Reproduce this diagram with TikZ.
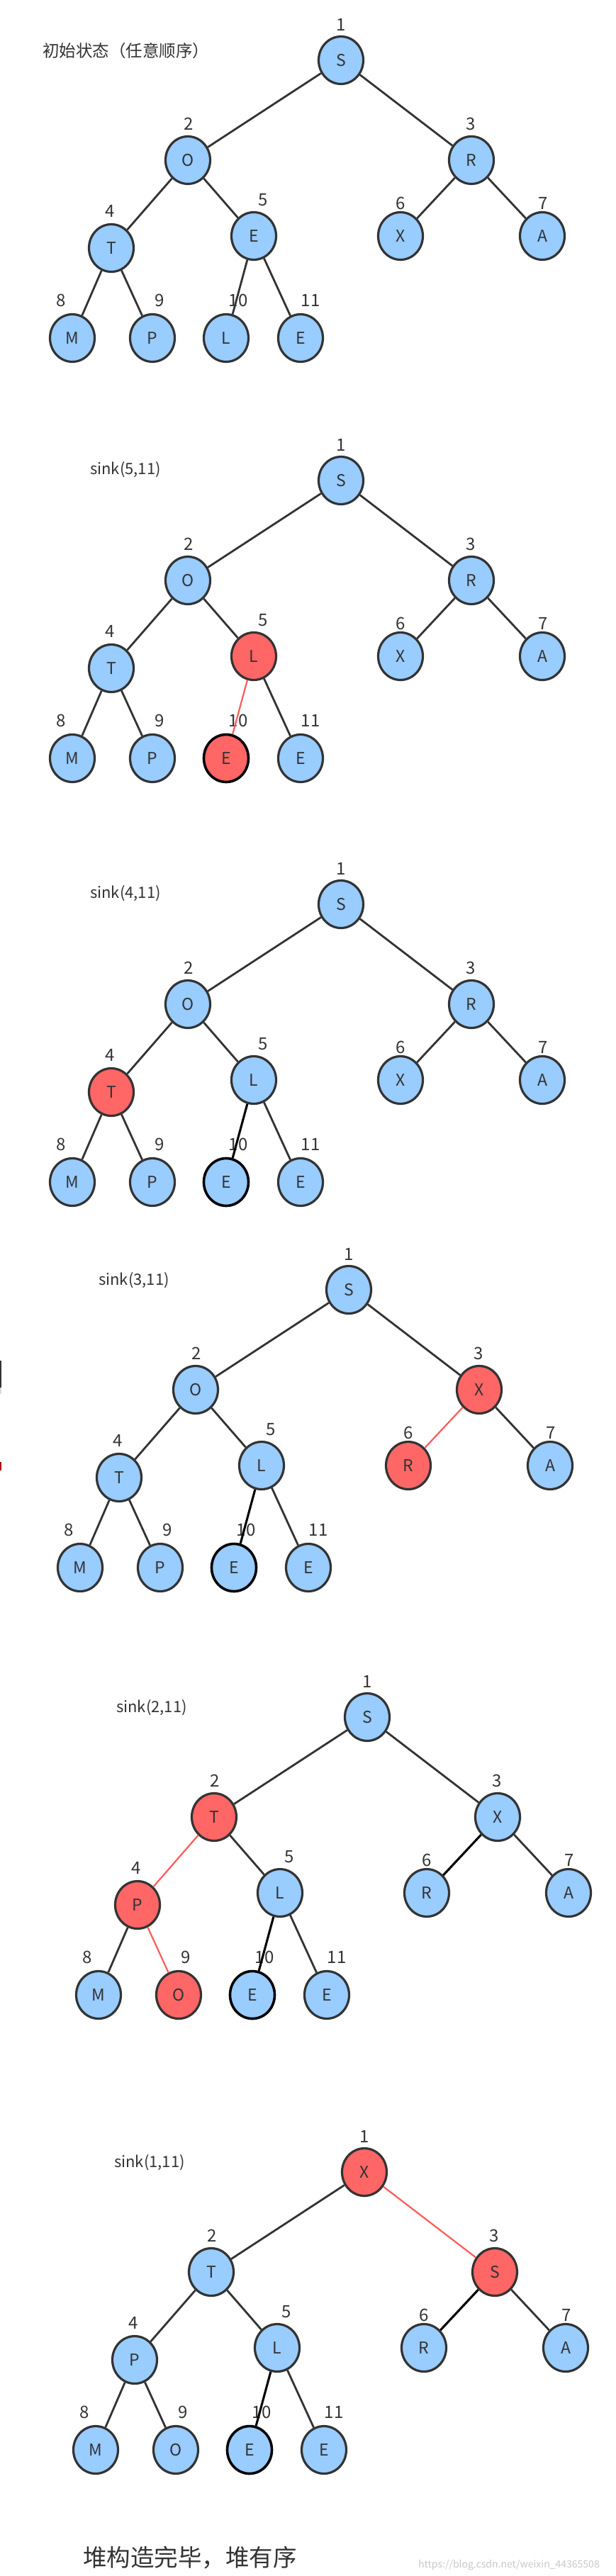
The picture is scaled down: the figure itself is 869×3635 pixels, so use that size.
\documentclass[tikz,border=0pt]{standalone}
\usepackage{fontspec}
\setmainfont{Noto Sans CJK SC}
\usetikzlibrary{shapes.geometric}
\definecolor{nblue}{HTML}{99CCFF}
\definecolor{nred}{HTML}{FF6666}
\definecolor{ink}{HTML}{333333}
\definecolor{redline}{HTML}{FF5A5A}
\definecolor{urlgray}{HTML}{C8C8C8}
\newcommand\letterfont{\fontsize{23}{23}\selectfont}
\newcommand\numfont{\fontsize{24}{24}\selectfont}
\newcommand\titlefont{\fontsize{22}{22}\selectfont}
\newcommand\treecoords{%
  \coordinate (c1) at (481,85);
  \coordinate (c2) at (265,226);
  \coordinate (c3) at (665,226);
  \coordinate (c4) at (157,350);
  \coordinate (c5) at (358,333);
  \coordinate (c6) at (565,333);
  \coordinate (c7) at (765,333);
  \coordinate (c8) at (102,477);
  \coordinate (c9) at (215,477);
  \coordinate (c10) at (319,477);
  \coordinate (c11) at (424,477);
}
\newcommand\treelabels[1]{%
  \foreach \i/\ox/\oy in {1/0/-50,2/1/-51,3/-1/-51,4/-2/-52,5/13/-51,6/0/-46,7/1/-46,8/-16/-53,9/10/-53,10/17/-53,11/14/-53}
    \node[num] (#1-l\i) at ([shift={(\ox,\oy)}]c\i) {\i};
}
\tikzset{
  nd/.style={ellipse, minimum width=63pt, minimum height=67pt, inner sep=0pt, font=\letterfont, text=ink},
  num/.style={font=\numfont, text=ink, inner sep=0pt},
  ttl/.style={font=\titlefont, text=ink, inner sep=0pt, anchor=west},
}
\begin{document}
\begin{tikzpicture}[x=1pt,y=-1pt]
\fill[white] (0,0) rectangle (869,3635);
\useasboundingbox (0,0) rectangle (869,3635);

% ---------------- panel 1
\begin{scope}
\treecoords
\node[ttl, font=\fontsize{23.5}{23.5}\selectfont] (t1) at (60,72) {初始状态（任意顺序）};
\foreach \i/\l/\f/\b/\w in {1/S/nblue/ink/3.2,2/O/nblue/ink/3.2,3/R/nblue/ink/3.2,4/T/nblue/ink/3.2,5/E/nblue/ink/3.2,6/X/nblue/ink/3.2,7/A/nblue/ink/3.2,8/M/nblue/ink/3.2,9/P/nblue/ink/3.2,10/L/nblue/ink/3.2,11/E/nblue/ink/3.2}
  \node[nd, fill=\f, draw=\b, line width=\w pt] (a\i) at (c\i) {\l};
\treelabels{a}
\foreach \p/\q/\c/\w in {1/2/ink/2.8,1/3/ink/2.8,2/4/ink/2.8,2/5/ink/2.8,3/6/ink/2.8,3/7/ink/2.8,4/8/ink/2.8,4/9/ink/2.8,5/10/ink/2.8,5/11/ink/2.8}
  \draw[draw=\c, line width=\w pt] (a\p) -- (a\q);
\end{scope}

% ---------------- panel 2
\begin{scope}[shift={(0,593)}]
\treecoords
\node[ttl] (t2) at (127,70) {sink(5,11)};
\foreach \i/\l/\f/\b/\w in {1/S/nblue/ink/3.2,2/O/nblue/ink/3.2,3/R/nblue/ink/3.2,4/T/nblue/ink/3.2,5/L/nred/ink/3.2,6/X/nblue/ink/3.2,7/A/nblue/ink/3.2,8/M/nblue/ink/3.2,9/P/nblue/ink/3.2,10/E/nred/black/3.6,11/E/nblue/ink/3.2}
  \node[nd, fill=\f, draw=\b, line width=\w pt] (b\i) at (c\i) {\l};
\treelabels{b}
\foreach \p/\q/\c/\w in {1/2/ink/2.8,1/3/ink/2.8,2/4/ink/2.8,2/5/ink/2.8,3/6/ink/2.8,3/7/ink/2.8,4/8/ink/2.8,4/9/ink/2.8,5/10/redline/2.2,5/11/ink/2.8}
  \draw[draw=\c, line width=\w pt] (b\p) -- (b\q);
\end{scope}

% ---------------- panel 3
\begin{scope}[shift={(0,1191)}]
\treecoords
\node[ttl] (t3) at (127,70) {sink(4,11)};
\foreach \i/\l/\f/\b/\w in {1/S/nblue/ink/3.2,2/O/nblue/ink/3.2,3/R/nblue/ink/3.2,4/T/nred/ink/3.2,5/L/nblue/ink/3.2,6/X/nblue/ink/3.2,7/A/nblue/ink/3.2,8/M/nblue/ink/3.2,9/P/nblue/ink/3.2,10/E/nblue/black/3.6,11/E/nblue/ink/3.2}
  \node[nd, fill=\f, draw=\b, line width=\w pt] (g\i) at (c\i) {\l};
\treelabels{g}
\foreach \p/\q/\c/\w in {1/2/ink/2.8,1/3/ink/2.8,2/4/ink/2.8,2/5/ink/2.8,3/6/ink/2.8,3/7/ink/2.8,4/8/ink/2.8,4/9/ink/2.8,5/10/black/3.1,5/11/ink/2.8}
  \draw[draw=\c, line width=\w pt] (g\p) -- (g\q);
\end{scope}

% ---------------- panel 4
\begin{scope}[shift={(11,1735)}]
\treecoords
\node[ttl] (t4) at (128,72) {sink(3,11)};
\foreach \i/\l/\f/\b/\w in {1/S/nblue/ink/3.2,2/O/nblue/ink/3.2,3/X/nred/ink/3.2,4/T/nblue/ink/3.2,5/L/nblue/ink/3.2,6/R/nred/ink/3.2,7/A/nblue/ink/3.2,8/M/nblue/ink/3.2,9/P/nblue/ink/3.2,10/E/nblue/black/3.6,11/E/nblue/ink/3.2}
  \node[nd, fill=\f, draw=\b, line width=\w pt] (d\i) at (c\i) {\l};
\treelabels{d}
\foreach \p/\q/\c/\w in {1/2/ink/2.8,1/3/ink/2.8,2/4/ink/2.8,2/5/ink/2.8,3/6/redline/2.2,3/7/ink/2.8,4/8/ink/2.8,4/9/ink/2.8,5/10/black/3.1,5/11/ink/2.8}
  \draw[draw=\c, line width=\w pt] (d\p) -- (d\q);
\end{scope}

% ---------------- panel 5
\begin{scope}[shift={(37,2338)}]
\treecoords
\node[ttl] (t5) at (127,72) {sink(2,11)};
\foreach \i/\l/\f/\b/\w in {1/S/nblue/ink/3.2,2/T/nred/ink/3.2,3/X/nblue/ink/3.2,4/P/nred/ink/3.2,5/L/nblue/ink/3.2,6/R/nblue/ink/3.2,7/A/nblue/ink/3.2,8/M/nblue/ink/3.2,9/O/nred/ink/3.2,10/E/nblue/black/3.6,11/E/nblue/ink/3.2}
  \node[nd, fill=\f, draw=\b, line width=\w pt] (e\i) at (c\i) {\l};
\treelabels{e}
\foreach \p/\q/\c/\w in {1/2/ink/2.8,1/3/ink/2.8,2/4/redline/2.2,2/5/ink/2.8,3/6/black/3.1,3/7/ink/2.8,4/8/ink/2.8,4/9/redline/2.2,5/10/black/3.1,5/11/ink/2.8}
  \draw[draw=\c, line width=\w pt] (e\p) -- (e\q);
\end{scope}

% ---------------- panel 6
\begin{scope}[shift={(33,2980)}]
\treecoords
\node[ttl] (t6) at (128,72) {sink(1,11)};
\foreach \i/\l/\f/\b/\w in {1/X/nred/ink/3.2,2/T/nblue/ink/3.2,3/S/nred/ink/3.2,4/P/nblue/ink/3.2,5/L/nblue/ink/3.2,6/R/nblue/ink/3.2,7/A/nblue/ink/3.2,8/M/nblue/ink/3.2,9/O/nblue/ink/3.2,10/E/nblue/black/3.6,11/E/nblue/ink/3.2}
  \node[nd, fill=\f, draw=\b, line width=\w pt] (f\i) at (c\i) {\l};
\treelabels{f}
\foreach \p/\q/\c/\w in {1/2/ink/2.8,1/3/redline/2.2,2/4/ink/2.8,2/5/ink/2.8,3/6/black/3.1,3/7/ink/2.8,4/8/ink/2.8,4/9/ink/2.8,5/10/black/3.1,5/11/ink/2.8}
  \draw[draw=\c, line width=\w pt] (f\p) -- (f\q);
\end{scope}

\node[ttl, font=\fontsize{33.5}{33.5}\selectfont] (done) at (117,3609) {堆构造完毕，堆有序};
\node[anchor=west, inner sep=0pt, text=urlgray, font=\fontsize{14}{14}\selectfont] (url) at (590,3620) {https://blog.csdn.net/weixin\_44365508};

% left-edge fragments
\fill[ink] (0,1920) rectangle (2,1958);
\fill[gray!30] (0,1958) rectangle (2,1967);
\fill[red!70!black] (0,2063) rectangle (2,2075);
\end{tikzpicture}
\end{document}
